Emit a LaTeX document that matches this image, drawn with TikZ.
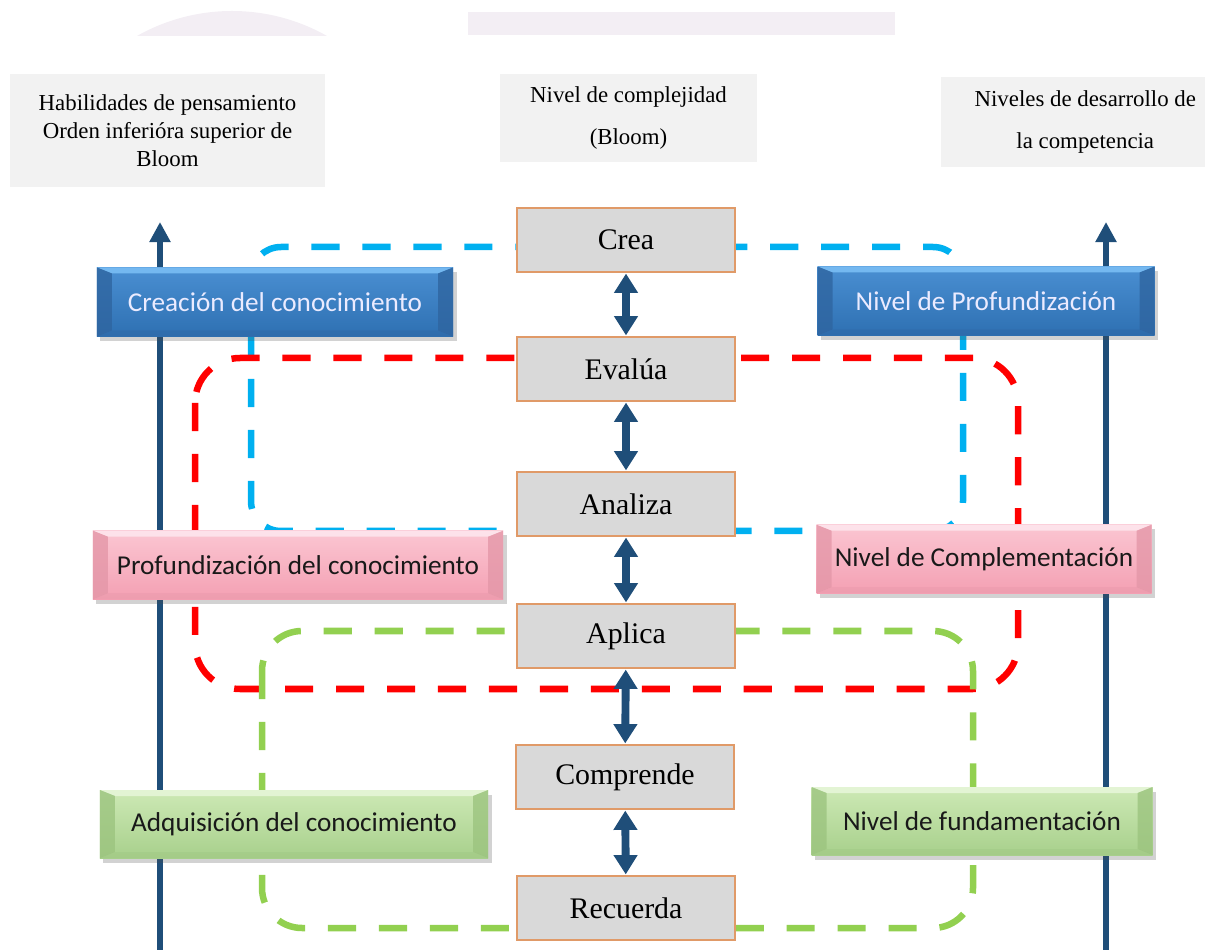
\documentclass[tikz,border=0pt]{standalone}
\usepackage{fontspec}
\setmainfont{Liberation Serif}
\newfontfamily\calibri{Carlito}
\usetikzlibrary{arrows.meta,shadows,calc}

\definecolor{azulOsc}{HTML}{1F4E79}
\definecolor{grisCab}{HTML}{F2F2F2}
\definecolor{grisBloom}{HTML}{D9D9D9}
\definecolor{bordeBloom}{HTML}{E09A68}
\definecolor{lavanda}{HTML}{F3EEF4}
\definecolor{azulGuion}{HTML}{00B0F0}
\definecolor{rojoGuion}{HTML}{FF0000}
\definecolor{verdeGuion}{HTML}{92D050}
% colores de las cajas biseladas
\definecolor{azulSup}{HTML}{4A8FD2}
\definecolor{azulInf}{HTML}{2E70B2}
\definecolor{azulLado}{HTML}{2F65A0}
\definecolor{azulBrillo}{HTML}{74B8F0}
\definecolor{rosaSup}{HTML}{FBC6D2}
\definecolor{rosaInf}{HTML}{F4A0B3}
\definecolor{rosaLado}{HTML}{E497A8}
\definecolor{rosaBrillo}{HTML}{FDE2EA}
\definecolor{verdeSup}{HTML}{CDE9B5}
\definecolor{verdeInf}{HTML}{A8D08C}
\definecolor{verdeLado}{HTML}{9CC47F}
\definecolor{verdeBrillo}{HTML}{E3F4D4}

\tikzset{
  bisel/.style n args={4}{top color=#1, bottom color=#2, draw=none, inner sep=0pt,
    drop shadow={shadow xshift=0.7mm, shadow yshift=-0.9mm, opacity=0.25, fill=black!70},
    path picture={
      \coordinate (nw) at (path picture bounding box.north west);
      \coordinate (ne) at (path picture bounding box.north east);
      \coordinate (sw) at (path picture bounding box.south west);
      \coordinate (se) at (path picture bounding box.south east);
      \fill[#4] (nw) -- (ne) -- ([shift={(-3mm,-1.2mm)}]ne) -- ([shift={(3mm,-1.2mm)}]nw) -- cycle;
      \fill[#3, opacity=0.8] (nw) -- ([shift={(3mm,-1.2mm)}]nw) -- ([shift={(3mm,1.2mm)}]sw) -- (sw) -- cycle;
      \fill[#3, opacity=0.8] (ne) -- ([shift={(-3mm,-1.2mm)}]ne) -- ([shift={(-3mm,1.2mm)}]se) -- (se) -- cycle;
      \fill[#3, opacity=0.35] (sw) -- (se) -- ([shift={(-3mm,1.2mm)}]se) -- ([shift={(3mm,1.2mm)}]sw) -- cycle;
    }},
  azulBox/.style={bisel={azulSup}{azulInf}{azulLado}{azulBrillo},
    text=white!92!blue, font=\calibri\fontsize{15.5}{18}\selectfont, minimum height=13.8mm},
  rosaBox/.style={bisel={rosaSup}{rosaInf}{rosaLado}{rosaBrillo},
    text=black!90, font=\calibri\fontsize{15.5}{18}\selectfont, minimum height=13.7mm},
  verdeBox/.style={bisel={verdeSup}{verdeInf}{verdeLado}{verdeBrillo},
    text=black!90, font=\calibri\fontsize{15.5}{18}\selectfont, minimum height=13.6mm},
}

\begin{document}
\begin{tikzpicture}[x=0.2mm, y=-0.2mm,
    cabecera/.style={fill=grisCab, align=center, inner sep=0pt, font=\fontsize{13}{15.5}\selectfont},
    bloom/.style={draw=bordeBloom, line width=0.8pt, fill=grisBloom, inner sep=0pt,
      minimum width=43.6mm, minimum height=12.8mm, font=\fontsize{17}{20}\selectfont},
    guion/.style={#1, line width=3.7pt, dash pattern=on 16pt off 13pt},
    eje/.style={azulOsc, line width=2.9pt, -{Triangle[width=11.5pt,length=11.5pt]}},
    flecha/.style={azulOsc, line width=4.5pt,
      {Triangle[width=13pt,length=11pt]}-{Triangle[width=13pt,length=11pt]}, shorten <=0.5pt, shorten >=0.5pt}]
  \useasboundingbox (0,0) rectangle (1205,950);

  % Formas pálidas del borde superior
  \begin{scope}
    \clip (0,0) rectangle (1205,35.5);
    \fill[lavanda] (232,204) circle (38.6mm);
  \end{scope}
  \fill[lavanda] (468,12) rectangle (895,35.5);

  % Cabeceras
  \node[cabecera, minimum width=63mm, minimum height=22.6mm] (hab) at (167.5,130.5)
    {Habilidades de pensamiento\\[0.3pt] Orden inferióra superior de\\[0.3pt] Bloom};
  \node[cabecera, minimum width=51.4mm, minimum height=17.6mm] (compl) at (628.5,118)
    {Nivel de complejidad\\[8.4pt] (Bloom)};
  \node[cabecera, minimum width=52.8mm, minimum height=18mm] (niv) at (1073,122)
    {\hspace*{14pt}Niveles de desarrollo de\\[8pt] \hspace*{14pt}la competencia};

  % Contornos discontinuos de cada nivel
  \draw[guion=azulGuion, rounded corners=6mm] (251,247) rectangle (963,531);
  \draw[guion=rojoGuion, rounded corners=9mm] (195,358) rectangle (1018,689);
  \draw[guion=verdeGuion, rounded corners=8mm] (262,631) rectangle (973,928);

  % Ejes laterales
  \coordinate (izqBase) at (160,950);
  \coordinate (izqTope) at (160,222);
  \coordinate (derBase) at (1106,950);
  \coordinate (derTope) at (1106,222);
  \draw[eje] (izqBase) -- (izqTope);
  \draw[eje] (derBase) -- (derTope);

  % Niveles de Bloom
  \node[bloom] (crea)      at (626,240) {Crea};
  \node[bloom] (evalua)    at (626,369) {Evalúa};
  \node[bloom] (analiza)   at (626,504) {Analiza};
  \node[bloom] (aplica)    at (626,636) {Aplica};
  \node[bloom] (comprende) at (625,777) {Comprende};
  \node[bloom] (recuerda)  at (626,908) {Recuerda};

  \foreach \a/\b in {crea/evalua, evalua/analiza, analiza/aplica, aplica/comprende, comprende/recuerda}
    \draw[flecha] (\a) -- (\b);

  % Habilidades (izquierda)
  \node[azulBox, minimum width=71.2mm] (creacion) at (275,302) {Creación del conocimiento};
  \node[rosaBox, minimum width=82mm] (profundizacion) at (298,565) {Profundización del conocimiento};
  \node[verdeBox, minimum width=77.6mm] (adquisicion) at (294,824) {Adquisición del conocimiento};

  % Desarrollo de la competencia (derecha)
  \node[azulBox, minimum width=67.4mm] (nivProf) at (986,301) {Nivel de Profundización};
  \node[rosaBox, minimum width=67mm] (nivCompl) at (984,559) {Nivel de Complementación};
  \node[verdeBox, minimum width=68.2mm] (nivFund) at (982,821) {Nivel de fundamentación};
\end{tikzpicture}
\end{document}
